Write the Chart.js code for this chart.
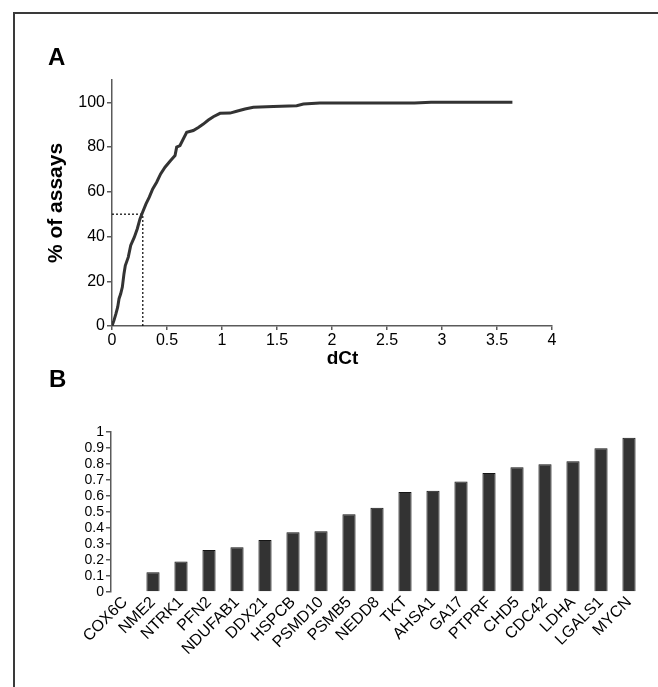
<!DOCTYPE html>
<html>
<head>
<meta charset="utf-8">
<script src="https://cdn.jsdelivr.net/npm/chart.js@4.4.1/dist/chart.umd.min.js"></script>
<style>
  html, body { margin: 0; padding: 0; background: #fff; }
  body { width: 658px; height: 687px; position: relative; overflow: hidden; font-family: 'Liberation Sans', Arial, sans-serif; }
  #frame { position: absolute; left: 13px; top: 12px; width: 700px; height: 700px; border-left: 2px solid #3a3a3a; border-top: 2px solid #3a3a3a; }
  .panel { position: absolute; font-weight: bold; font-size: 24px; color: #000; line-height: 1; z-index: 2; }
  #cA { position: absolute; left: 0; top: 0; }
  #cB { position: absolute; left: 0; top: 380px; }
</style>
</head>
<body>
<div id="frame"></div>
<div class="panel" style="left:48px; top:45px;">A</div>
<div class="panel" style="left:49px; top:367px;">B</div>
<canvas id="cA" width="658" height="380"></canvas>
<canvas id="cB" width="658" height="307"></canvas>
<script>
// ---- Panel A data: cumulative % of assays vs dCt ----
const dctValues = [0, 0.018, 0.036, 0.052, 0.064, 0.079, 0.094, 0.109, 0.121, 0.148, 0.17, 0.203, 0.23, 0.255, 0.279, 0.309, 0.339, 0.37, 0.406, 0.442, 0.482, 0.533, 0.573, 0.588, 0.618, 0.648, 0.679, 0.739, 0.785, 0.83, 0.876, 0.921, 0.982, 1.073, 1.133, 1.209, 1.285, 1.467, 1.679, 1.74, 1.89, 2.75, 2.9, 3.64];
const pctAssays = [0, 2.5, 5.5, 8.5, 12.2, 14.4, 17.4, 23.4, 27, 30.8, 36, 39.7, 43.5, 48, 51, 54.6, 57.6, 61.3, 64.3, 68, 71, 74, 76.2, 80, 80.7, 83.6, 86.6, 87.4, 88.8, 90.3, 92.1, 93.6, 95.1, 95.2, 96, 97, 97.8, 98.1, 98.5, 99.3, 99.7, 99.7, 100, 100];
const medianDct = 0.28;
const medianPct = 50;
const xTicksA = [0, 0.5, 1, 1.5, 2, 2.5, 3, 3.5, 4];
const yTicksA = [0, 20, 40, 60, 80, 100];

// ---- Panel B data ----
const genes = ['COX6C', 'NME2', 'NTRK1', 'PFN2', 'NDUFAB1', 'DDX21', 'HSPCB', 'PSMD10', 'PSMB5', 'NEDD8', 'TKT', 'AHSA1', 'GA17', 'PTPRF', 'CHD5', 'CDC42', 'LDHA', 'LGALS1', 'MYCN'];
const geneValues = [0, 0.123, 0.19, 0.262, 0.28, 0.325, 0.373, 0.379, 0.486, 0.527, 0.625, 0.633, 0.69, 0.744, 0.779, 0.799, 0.817, 0.898, 0.964];
const yTicksB = [0, 0.1, 0.2, 0.3, 0.4, 0.5, 0.6, 0.7, 0.8, 0.9, 1];

const AXIS = '#5a5a5a';
const FONT = "'Liberation Sans', Arial, sans-serif";

new Chart(document.getElementById('cA'), {
  type: 'scatter',
  data: {
    datasets: [
      {
        data: dctValues.map((x, i) => ({ x: x, y: pctAssays[i] })),
        showLine: true, borderColor: '#333', borderWidth: 3, pointRadius: 0, tension: 0, order: 0
      },
      {
        data: [{ x: 0, y: medianPct }, { x: medianDct, y: medianPct }],
        showLine: true, borderColor: '#000', borderWidth: 1.2, borderDash: [2, 2], pointRadius: 0, order: 1
      },
      {
        data: [{ x: medianDct, y: 0 }, { x: medianDct, y: medianPct }],
        showLine: true, borderColor: '#000', borderWidth: 1.2, borderDash: [2, 2], pointRadius: 0, order: 1
      }
    ]
  },
  options: {
    responsive: false, animation: false, events: [],
    layout: { padding: { left: 0, right: 106, top: 80, bottom: 0 } },
    plugins: { legend: { display: false }, tooltip: { enabled: false } },
    scales: {
      x: {
        type: 'linear', min: 0, max: 4,
        afterBuildTicks: s => { s.ticks = xTicksA.map(v => ({ value: v })); },
        afterFit: s => { s.height = 54; },
        ticks: { color: '#000', font: { family: FONT, size: 16 }, padding: 1, maxRotation: 0, autoSkip: false,
          callback: v => String(v) },
        grid: { display: true, drawOnChartArea: false, drawTicks: true, tickLength: 4, color: AXIS, lineWidth: 1.5 },
        border: { display: true, color: AXIS, width: 1.5 },
        title: { display: true, text: '    dCt', color: '#000', font: { family: FONT, size: 19, weight: 'bold' }, padding: { top: 0, bottom: 10 } }
      },
      y: {
        type: 'linear', min: 0, max: 110,
        afterBuildTicks: s => { s.ticks = yTicksA.map(v => ({ value: v })); },
        afterFit: s => { s.width = 112; },
        ticks: { color: '#000', font: { family: FONT, size: 16 }, padding: 2, autoSkip: false },
        grid: { display: true, drawOnChartArea: false, drawTicks: true, tickLength: 5, color: AXIS, lineWidth: 1.5 },
        border: { display: true, color: AXIS, width: 1.5 },
        title: { display: true, text: '% of assays', color: '#000', font: { family: FONT, size: 21, weight: 'bold' }, padding: { top: 44, bottom: 0 } }
      }
    }
  }
});

new Chart(document.getElementById('cB'), {
  type: 'bar',
  data: {
    labels: genes,
    datasets: [{
      data: geneValues,
      backgroundColor: '#333333', borderColor: '#151515', borderWidth: 1,
      barPercentage: 0.47, categoryPercentage: 1.0
    }]
  },
  options: {
    responsive: false, animation: false, events: [],
    layout: { padding: { left: 0, right: 15, top: 52, bottom: 0 } },
    plugins: { legend: { display: false }, tooltip: { enabled: false } },
    scales: {
      x: {
        type: 'category',
        afterFit: s => { s.height = 95; },
        ticks: { color: '#000', font: { family: FONT, size: 16 }, minRotation: 45, maxRotation: 45, autoSkip: false, padding: 1 },
        grid: { display: false, drawTicks: false },
        border: { display: false }
      },
      y: {
        type: 'linear', min: 0, max: 1,
        afterBuildTicks: s => { s.ticks = yTicksB.map(v => ({ value: v })); },
        afterFit: s => { s.width = 111; },
        ticks: { color: '#000', font: { family: FONT, size: 14, lineHeight: 1 }, padding: 2, autoSkip: false,
          callback: v => String(Math.round(v * 10) / 10) },
        grid: { display: true, drawOnChartArea: false, drawTicks: true, tickLength: 5, color: AXIS, lineWidth: 1.5 },
        border: { display: true, color: AXIS, width: 1.5 }
      }
    }
  }
});
</script>
</body>
</html>
